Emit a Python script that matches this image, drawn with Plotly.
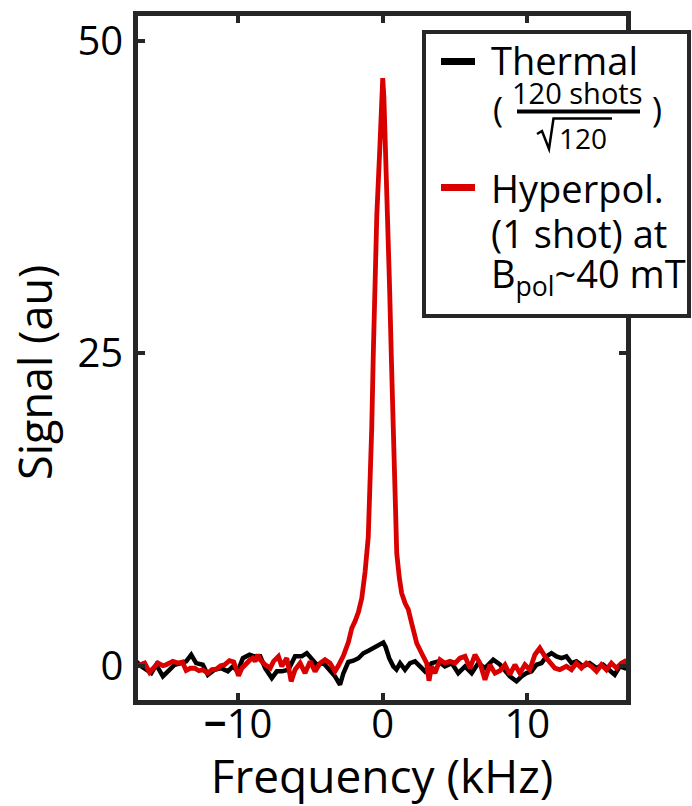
import plotly.graph_objects as go

# ---------------- data ----------------
thermal_freq = [-17.04, -16.7, -16.35, -16.0, -15.66, -15.2, -14.85, -14.39, -13.93, -13.59,
                -13.24, -12.9, -12.44, -12.09, -11.63, -11.17, -10.71, -10.36, -10.02, -9.67,
                -9.21, -8.87, -8.47, -8.13, -7.67, -7.32, -6.98, -6.52, -6.06, -5.6,
                -5.25, -4.91, -4.56, -4.1, -3.76, -3.3, -2.95, -2.72, -2.38, -2.03,
                -1.68, -1.34, -0.99, -0.65, -0.3, -0.07, 0.04, 0.2, 0.45, 0.73,
                0.95, 1.2, 1.54, 1.89, 2.23, 2.58, 2.92, 3.38, 3.85, 4.3,
                4.77, 5.22, 5.69, 6.15, 6.61, 7.07, 7.64, 8.1, 8.45, 8.79,
                9.25, 9.6, 9.94, 10.29, 10.63, 10.98, 11.32, 11.67, 12.01, 12.36,
                12.7, 13.05, 13.39, 13.85, 14.31, 14.78, 15.24, 15.7, 16.04, 16.39,
                16.73, 16.9]
thermal_signal = [0.35, -0.05, -0.32, -0.59, 0.08, -0.85, -0.45, 0.08, 0.21, 0.35,
                  0.88, 0.21, 0.08, -0.72, -0.32, -0.19, -0.45, -0.05, -0.45, 0.61,
                  0.88, 0.75, 0.75, -0.19, -0.99, -0.45, -0.45, -0.32, 0.75, 0.75,
                  1.01, 0.61, 0.08, 0.21, -0.19, -0.85, -1.52, -0.6, 0.3, 0.4,
                  0.6, 1.0, 1.2, 1.4, 1.6, 1.7, 1.85, 1.5, 0.6, -0.05,
                  -0.3, 0.21, -0.32, 0.21, 0.35, -0.05, -0.45, 0.21, 0.35, -0.05,
                  0.21, -0.59, -0.05, -0.59, 0.21, -0.19, 0.48, 0.1, -0.32, -0.85,
                  -1.25, -0.85, -0.59, -0.45, 0.08, 0.21, 0.75, 1.01, 0.75, 0.61,
                  0.75, 0.21, 0.35, -0.05, 0.21, -0.19, 0.08, -0.45, -0.72, -0.05,
                  -0.19, 0.1]

hyper_freq = [-17.04, -16.76, -16.46, -16.12, -15.84, -15.54, -15.2, -14.97, -14.51, -14.16,
              -13.85, -13.59, -13.3, -13.01, -12.7, -12.44, -12.09, -11.8, -11.52, -11.2,
              -10.94, -10.6, -10.3, -10.13, -9.97, -9.74, -9.44, -9.15, -8.98, -8.82,
              -8.64, -8.47, -8.13, -7.78, -7.55, -7.21, -6.98, -6.63, -6.33, -6.06,
              -5.71, -5.37, -5.02, -4.68, -4.33, -3.99, -3.64, -3.3, -3.07, -2.72,
              -2.37, -2.14, -1.9, -1.68, -1.45, -1.22, -1.0, -0.88, -0.76, -0.65,
              -0.53, -0.41, -0.19, -0.08, 0.0, 0.08, 0.2, 0.36, 0.48, 0.6,
              0.72, 0.85, 0.97, 1.15, 1.31, 1.55, 1.77, 2.0, 2.35, 2.69,
              3.04, 3.2, 3.38, 3.61, 3.96, 4.3, 4.65, 5.0, 5.34, 5.69,
              6.03, 6.38, 6.72, 7.07, 7.41, 7.76, 8.1, 8.45, 8.79, 9.14,
              9.48, 9.83, 10.17, 10.52, 10.86, 11.21, 11.55, 11.9, 12.24, 12.7,
              13.05, 13.39, 13.74, 14.08, 14.43, 14.78, 15.12, 15.47, 15.81, 16.16,
              16.5, 16.73, 16.9]
hyper_signal = [-0.05, 0.1, 0.21, -0.53, -0.1, 0.21, 0.0, 0.08, 0.35, 0.21,
                0.3, -0.37, -0.2, -0.19, -0.4, -0.32, -0.59, -0.3, -0.27, 0.0,
                0.08, 0.4, 0.3, -0.45, -0.8, -0.2, 0.21, 0.5, 0.61, 0.35,
                0.88, 0.48, 0.08, -0.19, 0.35, 0.75, -0.05, 0.61, -1.25, -0.32,
                0.21, -0.59, 0.35, -0.45, 0.21, 0.48, 0.21, -0.45, 0.0, 0.8,
                1.9, 3.0, 3.6, 4.3, 5.4, 7.5, 10.3, 14.0, 19.0, 25.0,
                31.0, 36.0, 41.7, 45.0, 47.0, 45.5, 41.5, 36.0, 30.0, 24.5,
                18.5, 13.0, 9.0, 7.0, 5.8, 5.0, 4.5, 3.4, 1.8, 1.0,
                0.2, -1.2, -0.05, -0.59, 0.48, 0.21, 0.35, 0.21, 0.61, 0.75,
                -0.19, 0.88, 0.21, -1.12, 0.08, -0.59, -0.4, 0.08, -0.72, 0.08,
                -0.59, 0.08, -0.32, 0.88, 1.41, 0.75, 0.35, -0.19, -0.32, -0.05,
                -0.32, 0.21, -0.19, 0.21, -0.05, -0.45, 0.08, -0.32, 0.21, -0.19,
                0.21, 0.35, 0.1]

x_ticks = [-10, 0, 10]
x_tick_labels = ["<b>\u2212</b>10", "0", "10"]
y_ticks = [0, 25, 50]

# ---------------- layout constants ----------------
W, H = 692, 806
ML, MR, MT, MB = 138, 66, 16, 106
PW, PH = W - ML - MR, H - MT - MB
AXIS = "#262626"
RED = "#d90000"
FONT = "Open Sans"


def px(xp):
    return (xp - ML) / PW


def py(yp):
    return (H - MB - yp) / PH


fig = go.Figure()
fig.add_trace(go.Scatter(x=thermal_freq, y=thermal_signal, mode="lines",
                         line=dict(color="black", width=4.5), name="Thermal",
                         showlegend=False))
fig.add_trace(go.Scatter(x=hyper_freq, y=hyper_signal, mode="lines",
                         line=dict(color=RED, width=4.8), name="Hyperpol.",
                         showlegend=False))

axis_common = dict(showline=True, mirror="ticks", linecolor=AXIS, linewidth=4.5,
                   ticks="inside", ticklen=7, tickwidth=4, tickcolor=AXIS,
                   showgrid=False, zeroline=False,
                   tickfont=dict(family=FONT, size=40, color="black"))

fig.update_xaxes(range=[-16.92, 16.82], tickvals=x_ticks, ticktext=x_tick_labels,
                 title=dict(text="Frequency (kHz)", font=dict(family=FONT, size=46, color="black"),
                            standoff=8),
                 ticklabelstandoff=-15, automargin=False, **axis_common)
fig.update_yaxes(range=[-2.74, 51.97], tickvals=y_ticks,
                 ticklabelstandoff=2, automargin=False, **axis_common)

# ---------------- hand-built legend ----------------
shapes = []
shapes.append(dict(type="rect", xref="paper", yref="paper",
                   x0=px(424), x1=px(689), y0=py(316), y1=py(32),
                   line=dict(color=AXIS, width=4), fillcolor="white", layer="above"))
for yy, col in [(61.5, "black"), (187.5, RED)]:
    shapes.append(dict(type="line", xref="paper", yref="paper",
                       x0=px(441), x1=px(475), y0=py(yy), y1=py(yy),
                       line=dict(color=col, width=7), layer="above"))
# fraction bar
shapes.append(dict(type="line", xref="paper", yref="paper",
                   x0=px(517), x1=px(640), y0=py(111.5), y1=py(111.5),
                   line=dict(color="black", width=4), layer="above"))
# radical sign with overline
rad = [(537, 134), (542, 131), (549, 149), (553.5, 118.5), (612, 118.5)]
rad_path = "M " + " L ".join(f"{px(a):.5f},{py(b):.5f}" for a, b in rad)
shapes.append(dict(type="path", xref="paper", yref="paper", path=rad_path,
                   line=dict(color="black", width=2.5), layer="above"))

annotations = []


def label(text, x, baseline, size, xanchor="left"):
    top = baseline - 1.069 * size - 1
    annotations.append(dict(text=text, xref="paper", yref="paper",
                            x=px(x), y=py(top), xanchor=xanchor, yanchor="top",
                            showarrow=False, borderpad=1,
                            font=dict(family=FONT, size=size, color="black")))


label("Thermal", 489, 73.5, 38)
label("(", 491, 121, 34)
label(")", 650, 121, 34)
label("120 shots", 577, 103, 29, xanchor="center")
label("120", 583, 148, 28, xanchor="center")
label("Hyperpol.", 489, 201.5, 38)
label("(1 shot) at", 489, 246.5, 38)
label("B<sub>pol</sub>~40 mT", 489, 286.5, 38)

# y-axis title
annotations.append(dict(text="Signal (au)", xref="paper", yref="paper",
                        x=px(35), y=py(373), xanchor="center", yanchor="middle",
                        textangle=-90, showarrow=False,
                        font=dict(family=FONT, size=45, color="black")))

fig.update_layout(width=W, height=H, margin=dict(l=ML, r=MR, t=MT, b=MB, autoexpand=False),
                  paper_bgcolor="white", plot_bgcolor="white",
                  shapes=shapes, annotations=annotations, showlegend=False)

fig.write_html("out.html", config={"displayModeBar": False},
               post_script="document.body.style.margin='0px';")
